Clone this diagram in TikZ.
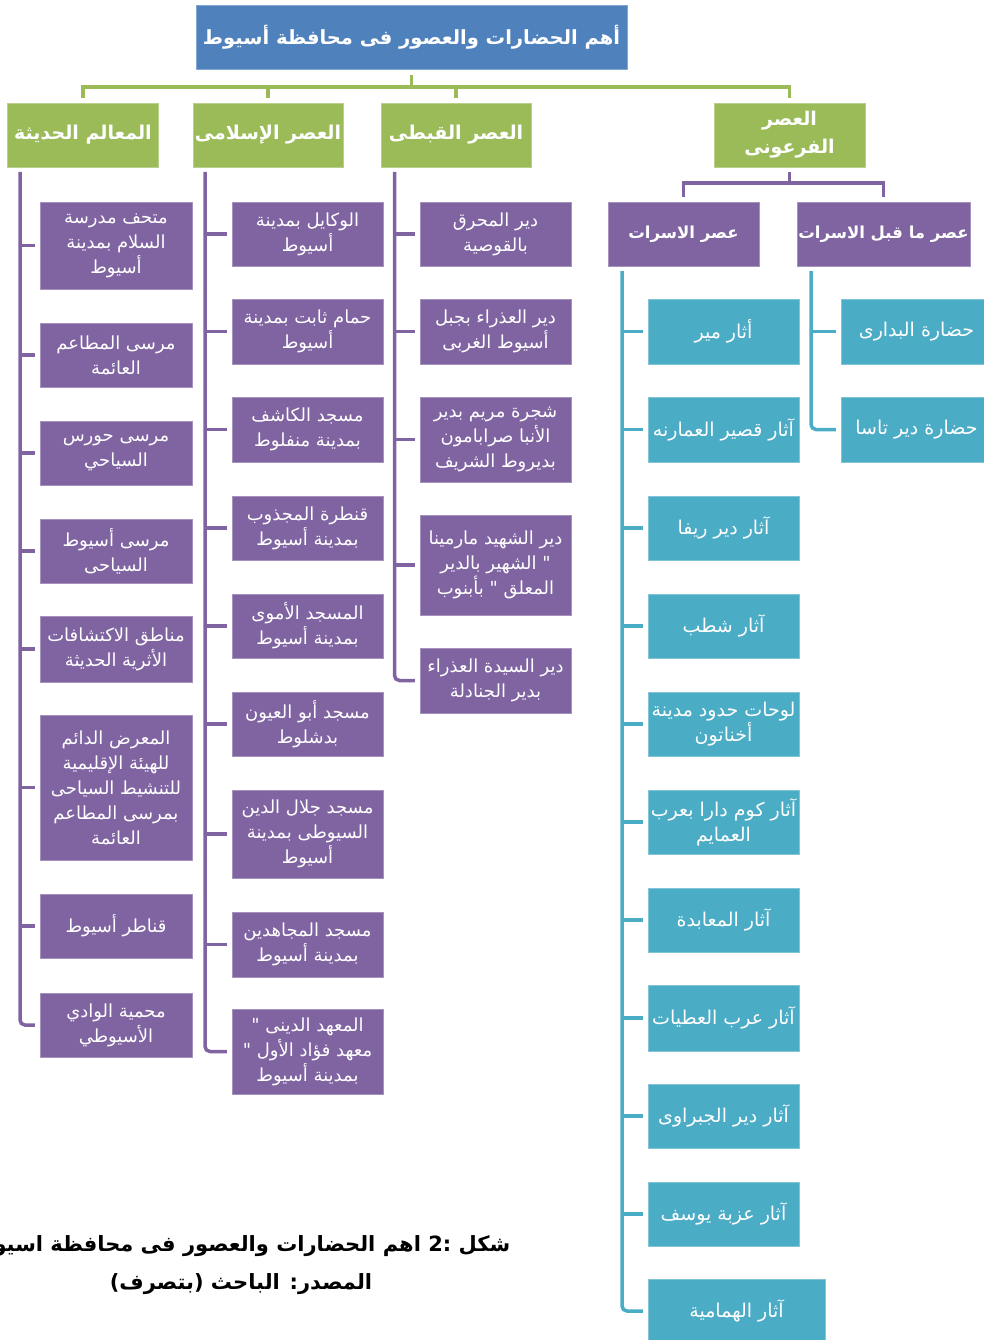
\documentclass[tikz,border=0pt]{standalone}
\usepackage{fontspec}
\newfontfamily\arabicfont[Script=Arabic]{DejaVu Sans}
\TeXXeTstate=1
\newcommand{\artext}[1]{\beginR #1\endR}
\definecolor{titleblue}{HTML}{4F81BD}
\definecolor{eragreen}{HTML}{9BBB59}
\definecolor{itempurple}{HTML}{8064A2}
\definecolor{siteteal}{HTML}{4BACC6}
\tikzset{
	titlebox/.style={fill=titleblue, draw=titleblue!70!white, text=white, inner sep=0, minimum width=431, minimum height=64, font=\arabicfont\bfseries\fontsize{19.5}{24}\selectfont},
	erabox/.style={fill=eragreen, draw=eragreen!70!white, text=white, inner sep=0, minimum width=151, minimum height=64, align=center, font=\arabicfont\bfseries\fontsize{19}{28}\selectfont},
	itembox/.style={fill=itempurple, draw=itempurple!70!white, text=white, inner sep=0, minimum width=152, minimum height=64, align=center, font=\arabicfont\fontsize{18}{25}\selectfont},
	headbox/.style={itembox, font=\arabicfont\bfseries\fontsize{16.5}{24}\selectfont},
	sitebox/.style={itembox, fill=siteteal, draw=siteteal!70!white, font=\arabicfont\fontsize{19}{25}\selectfont},
	greenline/.style={draw=eragreen, line width=3.5},
	purpleline/.style={draw=itempurple, line width=3.5},
	tealline/.style={draw=siteteal, line width=3.5}
}
\begin{document}
\begin{tikzpicture}[x=1pt, y=-1pt]
	\useasboundingbox (0,0) rectangle (984,1340);
	
	%title and eras
	\node[titlebox] (title) at (411.5,37) {\artext{أهم الحضارات والعصور فى محافظة أسيوط}};
	\node[erabox] (modern) at (83,135) {\artext{المعالم الحديثة}};
	\node[erabox, minimum width=150] (islamic) at (268,135) {\artext{العصر الإسلامى}};
	\node[erabox, minimum width=150] (coptic) at (456,135) {\artext{العصر القبطى}};
	\node[erabox] (pharaonic) at (789.5,135) {\artext{العصر}\\\artext{الفرعونى}};
	\coordinate (gbus) at (411.5,87);
	\draw[greenline, shorten <=6] (title.south) -- (gbus);
	\draw[greenline, shorten <=5, shorten >=5] (modern.north) -- (modern.north |- gbus) -- (pharaonic.north |- gbus) -- (pharaonic.north);
	\draw[greenline, shorten >=5] (islamic.north |- gbus) -- (islamic.north); \draw[greenline, shorten >=5] (coptic.north |- gbus) -- (coptic.north);
	
	%modern landmarks
	\node[itembox, minimum height=87] (m1) at (116,245.5) {\artext{متحف مدرسة}\\\artext{السلام بمدينة}\\\artext{أسيوط}};
	\node[itembox] (m2) at (116,355) {\artext{مرسى المطاعم}\\\artext{العائمة}};
	\node[itembox] (m3) at (116,453) {\artext{مرسى حورس}\\\artext{السياحي}};
	\node[itembox] (m4) at (116,551) {\artext{مرسى أسيوط}\\\artext{السياحى}};
	\node[itembox, minimum height=66] (m5) at (116,649) {\artext{مناطق الاكتشافات}\\\artext{الأثرية الحديثة}};
	\node[itembox, minimum height=145] (m6) at (116,787.5) {\artext{المعرض الدائم}\\\artext{للهيئة الإقليمية}\\\artext{للتنشيط السياحى}\\\artext{بمرسى المطاعم}\\\artext{العائمة}};
	\node[itembox] (m7) at (116,926) {\artext{قناطر أسيوط}};
	\node[itembox] (m8) at (116,1025) {\artext{محمية الوادي}\\\artext{الأسيوطي}};
	\coordinate (mtop) at (20,172);
	\draw[purpleline, rounded corners=5, shorten >=5] (mtop) |- (m8.west);
	\draw[purpleline, shorten >=5] (mtop |- m1.west) -- (m1.west); \draw[purpleline, shorten >=5] (mtop |- m2.west) -- (m2.west); \draw[purpleline, shorten >=5] (mtop |- m3.west) -- (m3.west); \draw[purpleline, shorten >=5] (mtop |- m4.west) -- (m4.west);
	\draw[purpleline, shorten >=5] (mtop |- m5.west) -- (m5.west); \draw[purpleline, shorten >=5] (mtop |- m6.west) -- (m6.west); \draw[purpleline, shorten >=5] (mtop |- m7.west) -- (m7.west);
	
	%islamic era
	\node[itembox, minimum width=151] (i1) at (307.5,234) {\artext{الوكايل بمدينة}\\\artext{أسيوط}};
	\node[itembox, minimum width=151, minimum height=65] (i2) at (307.5,331.5) {\artext{حمام ثابت بمدينة}\\\artext{أسيوط}};
	\node[itembox, minimum width=151, minimum height=65] (i3) at (307.5,429.5) {\artext{مسجد الكاشف}\\\artext{بمدينة منفلوط}};
	\node[itembox, minimum width=151] (i4) at (307.5,528) {\artext{قنطرة المجذوب}\\\artext{بمدينة أسيوط}};
	\node[itembox, minimum width=151] (i5) at (307.5,626) {\artext{المسجد الأموى}\\\artext{بمدينة أسيوط}};
	\node[itembox, minimum width=151] (i6) at (307.5,724) {\artext{مسجد أبو العيون}\\\artext{بدشلوط}};
	\node[itembox, minimum width=151, minimum height=88] (i7) at (307.5,834) {\artext{مسجد جلال الدين}\\\artext{السيوطى بمدينة}\\\artext{أسيوط}};
	\node[itembox, minimum width=151, minimum height=65] (i8) at (307.5,944.5) {\artext{مسجد المجاهدين}\\\artext{بمدينة أسيوط}};
	\node[itembox, minimum width=151, minimum height=85] (i9) at (307.5,1051.5) {\artext{المعهد الدينى "}\\\artext{معهد فؤاد الأول "}\\\artext{بمدينة أسيوط}};
	\coordinate (itop) at (205,172);
	\draw[purpleline, rounded corners=5, shorten >=5] (itop) |- (i9.west);
	\draw[purpleline, shorten >=5] (itop |- i1.west) -- (i1.west); \draw[purpleline, shorten >=5] (itop |- i2.west) -- (i2.west); \draw[purpleline, shorten >=5] (itop |- i3.west) -- (i3.west); \draw[purpleline, shorten >=5] (itop |- i4.west) -- (i4.west);
	\draw[purpleline, shorten >=5] (itop |- i5.west) -- (i5.west); \draw[purpleline, shorten >=5] (itop |- i6.west) -- (i6.west); \draw[purpleline, shorten >=5] (itop |- i7.west) -- (i7.west); \draw[purpleline, shorten >=5] (itop |- i8.west) -- (i8.west);
	
	%coptic era
	\node[itembox, minimum width=151] (c1) at (495.5,234) {\artext{دير المحرق}\\\artext{بالقوصية}};
	\node[itembox, minimum width=151, minimum height=65] (c2) at (495.5,331.5) {\artext{دير العذراء بجبل}\\\artext{أسيوط الغربى}};
	\node[itembox, minimum width=151, minimum height=85] (c3) at (495.5,439.5) {\artext{شجرة مريم بدير}\\\artext{الأنبا صرابامون}\\\artext{بديروط الشريف}};
	\node[itembox, minimum width=151, minimum height=100] (c4) at (495.5,565) {\artext{دير الشهيد مارمينا}\\\artext{" الشهير بالدير}\\\artext{المعلق " بأبنوب}};
	\node[itembox, minimum width=151, minimum height=65] (c5) at (495.5,680.5) {\artext{دير السيدة العذراء}\\\artext{بدير الجنادلة}};
	\coordinate (ctop) at (394.5,172);
	\draw[purpleline, rounded corners=5, shorten >=5] (ctop) |- (c5.west);
	\draw[purpleline, shorten >=5] (ctop |- c1.west) -- (c1.west); \draw[purpleline, shorten >=5] (ctop |- c2.west) -- (c2.west); \draw[purpleline, shorten >=5] (ctop |- c3.west) -- (c3.west); \draw[purpleline, shorten >=5] (ctop |- c4.west) -- (c4.west);
	
	%pharaonic era
	\node[headbox, minimum width=151] (dyn) at (683.5,234) {\artext{عصر الاسرات}};
	\node[headbox, minimum width=173] (predyn) at (883.5,234) {\artext{عصر ما قبل الاسرات}};
	\coordinate (pbus) at (789.5,183);
	\draw[purpleline, shorten <=5] (pharaonic.south) -- (pbus);
	\draw[purpleline, shorten <=5, shorten >=5] (dyn.north) -- (dyn.north |- pbus) -- (predyn.north |- pbus) -- (predyn.north);
	
	%pre-dynastic sites
	\node[sitebox, minimum width=151, minimum height=65] (p1) at (916.5,331.5) {\artext{حضارة البدارى}};
	\node[sitebox, minimum width=151, minimum height=65] (p2) at (916.5,429.5) {\artext{حضارة دير تاسا}};
	\coordinate (ptop) at (811,271);
	\draw[tealline, rounded corners=5, shorten >=5] (ptop) |- (p2.west);
	\draw[tealline, shorten >=5] (ptop |- p1.west) -- (p1.west);
	
	%dynastic sites
	\node[sitebox, minimum width=151, minimum height=65] (d1) at (723.5,331.5) {\artext{أثار مير}};
	\node[sitebox, minimum width=151, minimum height=65] (d2) at (723.5,429.5) {\artext{آثار قصير العمارنه}};
	\node[sitebox, minimum width=151] (d3) at (723.5,528) {\artext{آثار دير ريفا}};
	\node[sitebox, minimum width=151] (d4) at (723.5,626) {\artext{آثار شطب}};
	\node[sitebox, minimum width=151] (d5) at (723.5,724) {\artext{لوحات حدود مدينة}\\\artext{أخناتون}};
	\node[sitebox, minimum width=151] (d6) at (723.5,822) {\artext{آثار كوم دارا بعرب}\\\artext{العمايم}};
	\node[sitebox, minimum width=151] (d7) at (723.5,920) {\artext{آثار المعابدة}};
	\node[sitebox, minimum width=151, minimum height=66] (d8) at (723.5,1018) {\artext{آثار عرب العطيات}};
	\node[sitebox, minimum width=151] (d9) at (723.5,1116) {\artext{آثار دير الجبراوى}};
	\node[sitebox, minimum width=151] (d10) at (723.5,1214) {\artext{آثار عزبة يوسف}};
	\node[sitebox, minimum width=177] (d11) at (736.5,1311) {\artext{آثار الهمامية}};
	\coordinate (dtop) at (622,271);
	\draw[tealline, rounded corners=5, shorten >=5] (dtop) |- (d11.west);
	\draw[tealline, shorten >=5] (dtop |- d1.west) -- (d1.west); \draw[tealline, shorten >=5] (dtop |- d2.west) -- (d2.west); \draw[tealline, shorten >=5] (dtop |- d3.west) -- (d3.west); \draw[tealline, shorten >=5] (dtop |- d4.west) -- (d4.west); \draw[tealline, shorten >=5] (dtop |- d5.west) -- (d5.west);
	\draw[tealline, shorten >=5] (dtop |- d6.west) -- (d6.west); \draw[tealline, shorten >=5] (dtop |- d7.west) -- (d7.west); \draw[tealline, shorten >=5] (dtop |- d8.west) -- (d8.west); \draw[tealline, shorten >=5] (dtop |- d9.west) -- (d9.west); \draw[tealline, shorten >=5] (dtop |- d10.west) -- (d10.west);
	
	%caption
	\node[align=center, font=\arabicfont\bfseries\fontsize{21}{38}\selectfont] (caption) at (241,1265) {\artext{شكل :2 اهم الحضارات والعصور فى محافظة اسيوط}\\\artext{المصدر: الباحث (بتصرف)}};
\end{tikzpicture}
\end{document}
